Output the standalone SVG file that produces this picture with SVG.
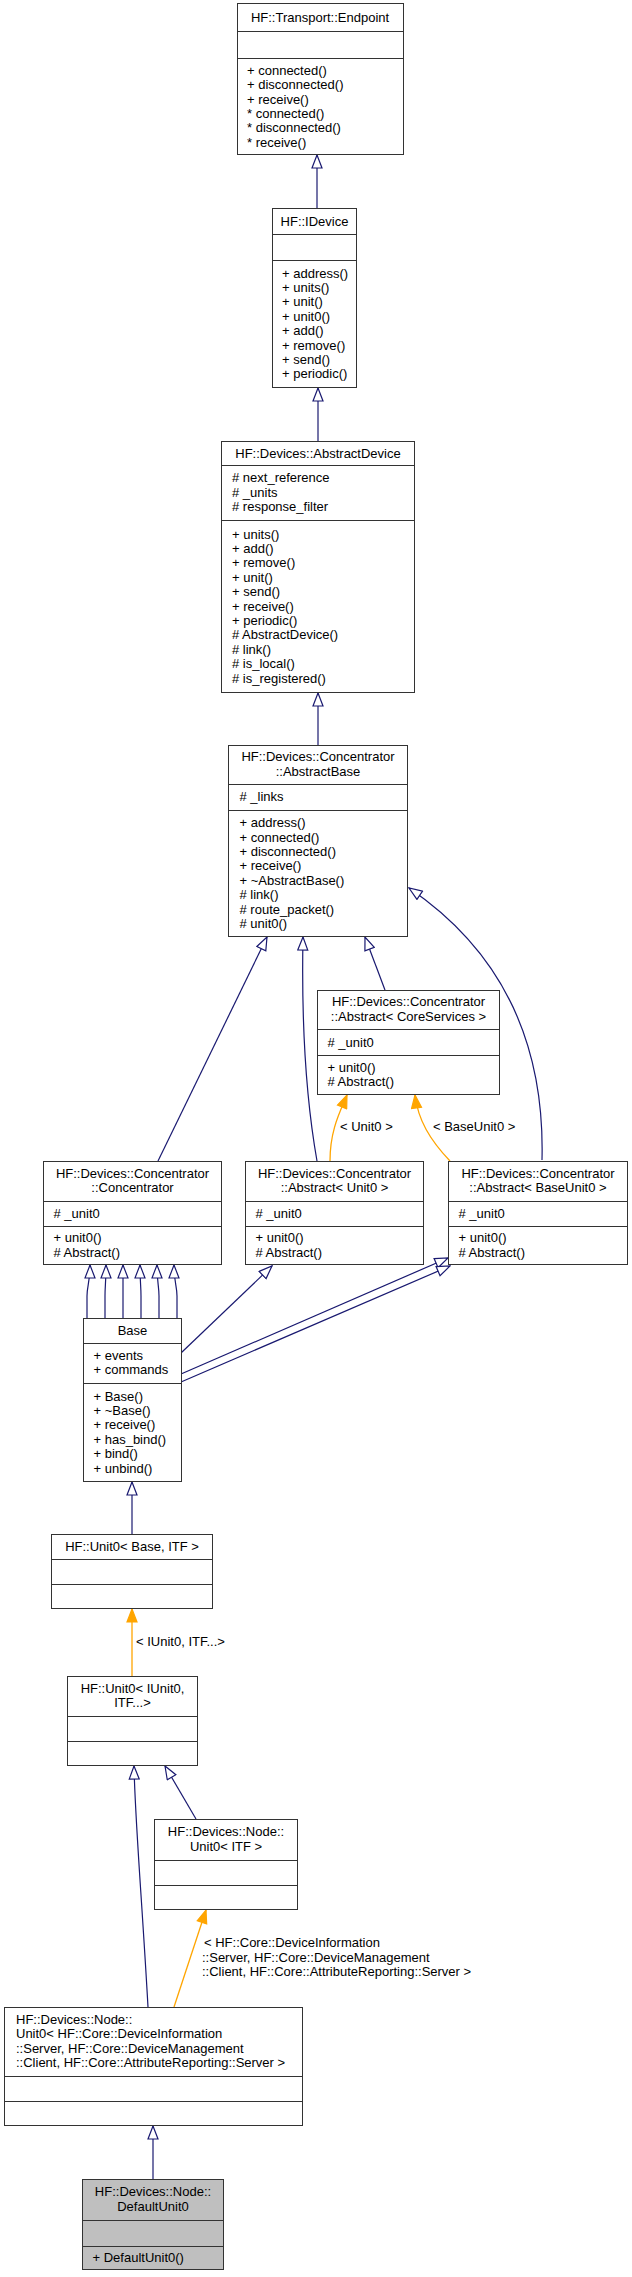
<svg xmlns="http://www.w3.org/2000/svg" width="632" height="2277" viewBox="0 0 632 2277">
<style>
text{font-family:"Liberation Sans",Arial,Helvetica,sans-serif;font-size:13px;fill:#000}
.c{text-anchor:middle}
.box{fill:#fff;stroke:#333;stroke-width:1}
.sep{stroke:#333;stroke-width:1}
.grey{fill:#bfbfbf}
.inh{fill:none;stroke:#191970;stroke-width:1.2}
.tpl{fill:none;stroke:#ffa500;stroke-width:1.3}
</style>
<defs>
<marker id="ai" viewBox="-1 -1 15 12" refX="13" refY="5" markerWidth="15" markerHeight="12" markerUnits="userSpaceOnUse" orient="auto">
<polygon points="0,0 13,5 0,10" fill="#fff" stroke="#191970" stroke-width="1.2"/>
</marker>
<marker id="ao" viewBox="-1 -1 15 12" refX="13" refY="5" markerWidth="15" markerHeight="12" markerUnits="userSpaceOnUse" orient="auto">
<polygon points="0,0 13,5 0,10" fill="#ffa500" stroke="#ffa500" stroke-width="1.2"/>
</marker>
</defs>
<g id="edges">
<path class="inh" marker-end="url(#ai)" d="M317,208 L317,155"/>
<path class="inh" marker-end="url(#ai)" d="M318,441 L318,388"/>
<path class="inh" marker-end="url(#ai)" d="M318,745 L318,693"/>
<path class="inh" marker-end="url(#ai)" d="M158,1161 L267,937"/>
<path class="inh" marker-end="url(#ai)" d="M317,1161 C308,1110 301,1040 303,937"/>
<path class="inh" marker-end="url(#ai)" d="M385,990 L365,937"/>
<path class="inh" marker-end="url(#ai)" d="M542,1160 C545,1040 500,950 409,888"/>
<path class="tpl" marker-end="url(#ao)" d="M330,1161 C330,1130 340,1112 347,1095"/>
<path class="tpl" marker-end="url(#ao)" d="M450,1161 C430,1140 418,1120 415,1095"/>
<path class="inh" marker-end="url(#ai)" d="M87,1318 L87,1296 C87,1286 90,1282 90,1265"/>
<path class="inh" marker-end="url(#ai)" d="M105,1318 L105,1296 C105,1286 106,1282 106,1265"/>
<path class="inh" marker-end="url(#ai)" d="M123,1318 L123,1296 C123,1286 123,1282 123,1265"/>
<path class="inh" marker-end="url(#ai)" d="M141,1318 L141,1296 C141,1286 140,1282 140,1265"/>
<path class="inh" marker-end="url(#ai)" d="M159,1318 L159,1296 C159,1286 157,1282 157,1265"/>
<path class="inh" marker-end="url(#ai)" d="M177,1318 L177,1296 C177,1286 174,1282 174,1265"/>
<path class="inh" marker-end="url(#ai)" d="M181,1353 L272,1266"/>
<path class="inh" marker-end="url(#ai)" d="M181,1374 L448,1258"/>
<path class="inh" marker-end="url(#ai)" d="M181,1382 L450,1266"/>
<path class="inh" marker-end="url(#ai)" d="M132,1534 L132,1482"/>
<path class="tpl" marker-end="url(#ao)" d="M132,1676 L132,1609"/>
<path class="inh" marker-end="url(#ai)" d="M148,2007 C142,1900 135,1820 134,1766"/>
<path class="inh" marker-end="url(#ai)" d="M196,1819 L165,1766"/>
<path class="tpl" marker-end="url(#ao)" d="M174,2007 L206,1910"/>
<path class="inh" marker-end="url(#ai)" d="M153,2179 L153,2126"/>
<text x="340" y="1131">&lt; Unit0 &gt;</text>
<text x="433" y="1131">&lt; BaseUnit0 &gt;</text>
<text x="136" y="1646">&lt; IUnit0, ITF...&gt;</text>
<text x="204" y="1947">&lt; HF::Core::DeviceInformation</text>
<text x="202" y="1961.5">::Server, HF::Core::DeviceManagement</text>
<text x="202" y="1976">::Client, HF::Core::AttributeReporting::Server &gt;</text>
</g>
<g id="endpoint">
<rect class="box" x="237.5" y="3.5" width="166" height="151"/>
<path class="sep" d="M237.5,31.5 H403.5 M237.5,58.5 H403.5"/>
<text class="c" x="320" y="22">HF::Transport::Endpoint</text>
<text x="247" y="74.8">+ connected()</text>
<text x="247" y="89.2">+ disconnected()</text>
<text x="247" y="103.6">+ receive()</text>
<text x="247" y="118">* connected()</text>
<text x="247" y="132.4">* disconnected()</text>
<text x="247" y="146.8">* receive()</text>
</g>
<g id="idevice">
<rect class="box" x="272.5" y="208.5" width="84" height="179"/>
<path class="sep" d="M272.5,234.5 H356.5 M272.5,260.5 H356.5"/>
<text class="c" x="314.5" y="225.5">HF::IDevice</text>
<text x="282" y="277.6">+ address()</text>
<text x="282" y="292">+ units()</text>
<text x="282" y="306.4">+ unit()</text>
<text x="282" y="320.8">+ unit0()</text>
<text x="282" y="335.2">+ add()</text>
<text x="282" y="349.6">+ remove()</text>
<text x="282" y="364">+ send()</text>
<text x="282" y="378.4">+ periodic()</text>
</g>
<g id="abstractdevice">
<rect class="box" x="221.5" y="441.5" width="193" height="251"/>
<path class="sep" d="M221.5,465.5 H414.5 M221.5,520.5 H414.5"/>
<text class="c" x="318" y="457.5">HF::Devices::AbstractDevice</text>
<text x="232" y="482">#  next_reference</text>
<text x="232" y="496.5">#  _units</text>
<text x="232" y="511">#  response_filter</text>
<text x="232" y="538.5">+ units()</text>
<text x="232" y="552.9">+ add()</text>
<text x="232" y="567.3">+ remove()</text>
<text x="232" y="581.7">+ unit()</text>
<text x="232" y="596.1">+ send()</text>
<text x="232" y="610.5">+ receive()</text>
<text x="232" y="624.9">+ periodic()</text>
<text x="232" y="639.3"># AbstractDevice()</text>
<text x="232" y="653.7"># link()</text>
<text x="232" y="668.1"># is_local()</text>
<text x="232" y="682.5"># is_registered()</text>
</g>
<g id="abstractbase">
<rect class="box" x="228.5" y="745.5" width="179" height="191"/>
<path class="sep" d="M228.5,784.5 H407.5 M228.5,810.5 H407.5"/>
<text class="c" x="318" y="761.3">HF::Devices::Concentrator</text>
<text class="c" x="318" y="775.7">::AbstractBase</text>
<text x="239.5" y="801"># _links</text>
<text x="239.5" y="827.1">+ address()</text>
<text x="239.5" y="841.5">+ connected()</text>
<text x="239.5" y="855.9">+ disconnected()</text>
<text x="239.5" y="870.3">+ receive()</text>
<text x="239.5" y="884.7">+ ~AbstractBase()</text>
<text x="239.5" y="899.1"># link()</text>
<text x="239.5" y="913.5"># route_packet()</text>
<text x="239.5" y="927.9"># unit0()</text>
</g>
<g id="abstract_coreservices">
<rect class="box" x="317.5" y="990.5" width="182" height="104"/>
<path class="sep" d="M317.5,1029.5 H499.5 M317.5,1055.5 H499.5"/>
<text class="c" x="408.5" y="1006.3">HF::Devices::Concentrator</text>
<text class="c" x="408.5" y="1020.7">::Abstract&lt; CoreServices &gt;</text>
<text x="327.5" y="1046.5"># _unit0</text>
<text x="327.5" y="1071.8">+ unit0()</text>
<text x="327.5" y="1086.2"># Abstract()</text>
</g>
<g id="concentrator">
<rect class="box" x="43.5" y="1161.5" width="178" height="103"/>
<path class="sep" d="M43.5,1201.5 H221.5 M43.5,1226.5 H221.5"/>
<text class="c" x="132.5" y="1177.8">HF::Devices::Concentrator</text>
<text class="c" x="132.5" y="1192.2">::Concentrator</text>
<text x="53.5" y="1217.5"># _unit0</text>
<text x="53.5" y="1242.3">+ unit0()</text>
<text x="53.5" y="1256.7"># Abstract()</text>
</g>
<g id="abstract_unit0">
<rect class="box" x="245.5" y="1161.5" width="178" height="103"/>
<path class="sep" d="M245.5,1201.5 H423.5 M245.5,1226.5 H423.5"/>
<text class="c" x="334.5" y="1177.8">HF::Devices::Concentrator</text>
<text class="c" x="334.5" y="1192.2">::Abstract&lt; Unit0 &gt;</text>
<text x="255.5" y="1217.5"># _unit0</text>
<text x="255.5" y="1242.3">+ unit0()</text>
<text x="255.5" y="1256.7"># Abstract()</text>
</g>
<g id="abstract_baseunit0">
<rect class="box" x="448.5" y="1161.5" width="179" height="103"/>
<path class="sep" d="M448.5,1201.5 H627.5 M448.5,1226.5 H627.5"/>
<text class="c" x="538" y="1177.8">HF::Devices::Concentrator</text>
<text class="c" x="538" y="1192.2">::Abstract&lt; BaseUnit0 &gt;</text>
<text x="458.5" y="1217.5"># _unit0</text>
<text x="458.5" y="1242.3">+ unit0()</text>
<text x="458.5" y="1256.7"># Abstract()</text>
</g>
<g id="base">
<rect class="box" x="83.5" y="1318.5" width="98" height="163"/>
<path class="sep" d="M83.5,1343.5 H181.5 M83.5,1383.5 H181.5"/>
<text class="c" x="132.5" y="1334.5">Base</text>
<text x="93.5" y="1359.8">+ events</text>
<text x="93.5" y="1374.2">+ commands</text>
<text x="93.5" y="1400.5">+ Base()</text>
<text x="93.5" y="1414.9">+ ~Base()</text>
<text x="93.5" y="1429.3">+ receive()</text>
<text x="93.5" y="1443.7">+ has_bind()</text>
<text x="93.5" y="1458.1">+ bind()</text>
<text x="93.5" y="1472.5">+ unbind()</text>
</g>
<g id="unit0_base_itf">
<rect class="box" x="51.5" y="1534.5" width="161" height="74"/>
<path class="sep" d="M51.5,1559.5 H212.5 M51.5,1584.5 H212.5"/>
<text class="c" x="132" y="1551">HF::Unit0&lt; Base, ITF &gt;</text>
</g>
<g id="unit0_iunit0">
<rect class="box" x="67.5" y="1676.5" width="130" height="89"/>
<path class="sep" d="M67.5,1716.5 H197.5 M67.5,1741.5 H197.5"/>
<text class="c" x="132.5" y="1692.8">HF::Unit0&lt; IUnit0,</text>
<text class="c" x="132.5" y="1707.2">ITF...&gt;</text>
</g>
<g id="node_unit0_itf">
<rect class="box" x="154.5" y="1819.5" width="143" height="90"/>
<path class="sep" d="M154.5,1860.5 H297.5 M154.5,1885.5 H297.5"/>
<text class="c" x="226" y="1836.3">HF::Devices::Node::</text>
<text class="c" x="226" y="1850.7">Unit0&lt; ITF &gt;</text>
</g>
<g id="node_unit0_hf">
<rect class="box" x="4.5" y="2007.5" width="298" height="118"/>
<path class="sep" d="M4.5,2076.5 H302.5 M4.5,2101.5 H302.5"/>
<text x="16" y="2023.9">HF::Devices::Node::</text>
<text x="16" y="2038.3">Unit0&lt; HF::Core::DeviceInformation</text>
<text x="16" y="2052.7">::Server, HF::Core::DeviceManagement</text>
<text x="16" y="2067.1">::Client, HF::Core::AttributeReporting::Server &gt;</text>
</g>
<g id="defaultunit0">
<rect class="box grey" x="82.5" y="2179.5" width="141" height="90"/>
<path class="sep" d="M82.5,2220.5 H223.5 M82.5,2246.5 H223.5"/>
<text class="c" x="153" y="2196.3">HF::Devices::Node::</text>
<text class="c" x="153" y="2210.7">DefaultUnit0</text>
<text x="92.5" y="2262">+ DefaultUnit0()</text>
</g>
</svg>
